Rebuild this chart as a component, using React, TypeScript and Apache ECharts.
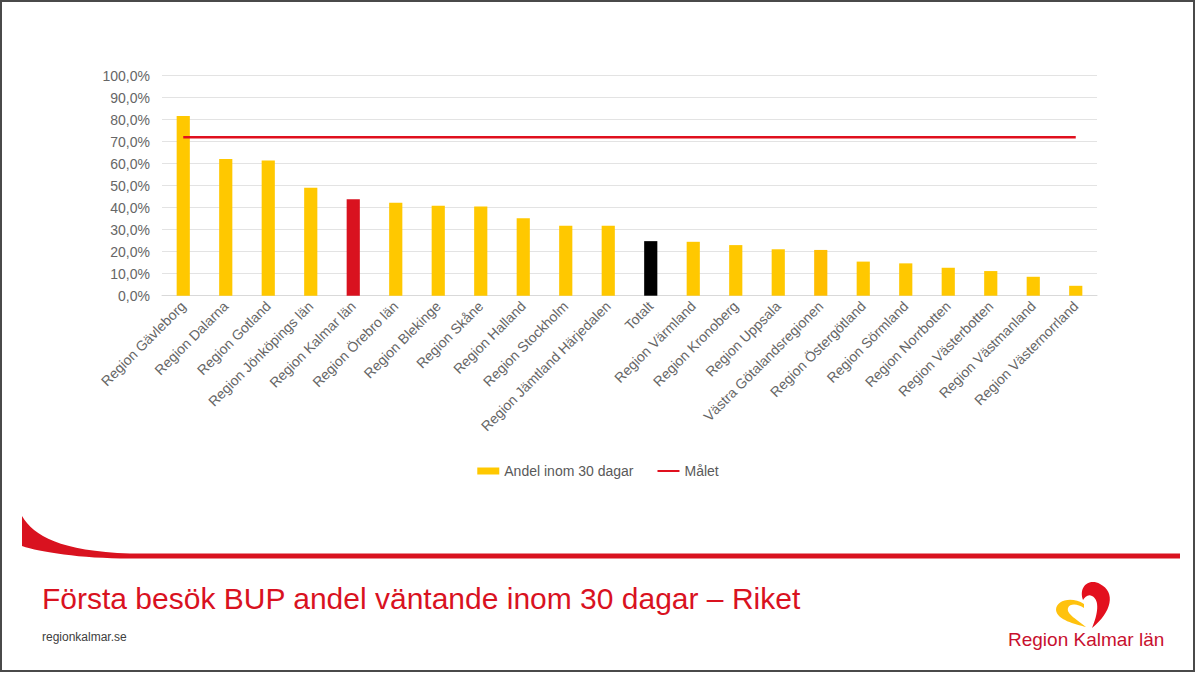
import React, { useEffect, useRef } from "react";
import * as echarts from "echarts";

const categories = [
  "Region Gävleborg", "Region Dalarna", "Region Gotland", "Region Jönköpings län",
  "Region Kalmar län", "Region Örebro län", "Region Blekinge", "Region Skåne",
  "Region Halland", "Region Stockholm", "Region Jämtland Härjedalen", "Totalt",
  "Region Värmland", "Region Kronoberg", "Region Uppsala", "Västra Götalandsregionen",
  "Region Östergötland", "Region Sörmland", "Region Norrbotten", "Region Västerbotten",
  "Region Västmanland", "Region Västernorrland",
];
const andel = [
  81.7, 62.1, 61.4, 49.1, 43.8, 42.3, 40.9, 40.5, 35.2, 31.8, 31.8, 24.8,
  24.5, 23.0, 21.1, 20.8, 15.5, 14.7, 12.7, 11.2, 8.6, 4.5,
];
const malet = categories.map(() => 72);
const yTicks = [0, 10, 20, 30, 40, 50, 60, 70, 80, 90, 100];

const seriesNames = ["Andel inom 30 dagar", "Målet"];
const title = "Första besök BUP andel väntande inom 30 dagar – Riket";

const FONT = "Liberation Sans, Arial, sans-serif";

function barColor(cat: string) {
  if (cat === "Region Kalmar län") return "#D9121F";
  if (cat === "Totalt") return "#000000";
  if (cat === "Västra Götalandsregionen") return "#FFBE00";
  return "#FFC800";
}

echarts.graphic.registerShape(
  "swoosh",
  echarts.graphic.extendPath(
    "M22,516 C34,536 60,551 130,553.5 L1180,553.5 L1180,558.5 L130,558.5 C80,558.5 40,552 22,546 Z",
    {}
  )
);
echarts.graphic.registerShape(
  "heartRed",
  echarts.graphic.extendPath(
    "M1083,600 C1078,586 1090,578 1100,584 C1116,592 1112,612 1092,628 C1098,614 1100,600 1092,596 C1088,594 1085,597 1083,600 Z",
    {}
  )
);
echarts.graphic.registerShape(
  "heartYellow",
  echarts.graphic.extendPath(
    "M1084,604 C1072,596 1056,600 1056,610 C1057,620 1075,624 1086,627 C1078,620 1066,614 1068,608 C1070,603 1078,604 1084,608 Z",
    {}
  )
);

export default function App() {
  const ref = useRef<HTMLDivElement>(null);
  useEffect(() => {
    const chart = echarts.init(ref.current!, undefined, { renderer: "svg" });
    chart.setOption({
      animation: false,
      backgroundColor: "#ffffff",
      textStyle: { fontFamily: FONT },
      grid: { left: 162, right: 99, top: 75.7, bottom: 377.3, containLabel: false },
      legend: {
        data: [
          { name: seriesNames[0], icon: "rect", itemStyle: { color: "#FFC800" } },
          {
            name: seriesNames[1],
            icon: "path://M0,0L0,0M0,2.5L22,2.5L22,4.5L0,4.5ZM22,7L22,7",
            itemStyle: { color: "#E0101E" },
          },
        ],
        top: 459,
        left: "center",
        itemWidth: 22,
        itemHeight: 7,
        itemGap: 24,
        textStyle: { fontSize: 14, color: "#595959", fontFamily: FONT },
      },
      xAxis: {
        type: "category",
        data: categories,
        axisLine: { show: true, lineStyle: { color: "#d9d9d9" } },
        axisTick: { show: false },
        axisLabel: {
          rotate: 45,
          interval: 0,
          fontSize: 14,
          color: "#666666",
          fontFamily: FONT,
          margin: 8,
        },
      },
      yAxis: {
        type: "value",
        min: 0,
        max: 100,
        interval: 10,
        axisLine: { show: false },
        axisTick: { show: false },
        splitLine: { lineStyle: { color: "#e3e3e3", width: 1 } },
        axisLabel: {
          fontSize: 14,
          color: "#666666",
          fontFamily: FONT,
          margin: 12,
          formatter: (v: number) =>
            yTicks.includes(v) ? `${v.toFixed(1).replace(".", ",")}%` : "",
        },
      },
      series: [
        {
          name: seriesNames[0],
          type: "bar",
          barWidth: "31%",
          data: andel.map((v, i) => ({
            value: v,
            itemStyle: { color: barColor(categories[i]) },
          })),
          itemStyle: { color: "#FFC800" },
        },
        {
          name: seriesNames[1],
          type: "line",
          data: malet,
          showSymbol: false,
          symbol: "none",
          lineStyle: { color: "#E0101E", width: 2.5 },
          itemStyle: { color: "#E0101E" },
        },
      ],
      graphic: [
        {
          type: "rect",
          shape: { x: 1, y: 1, width: 1193, height: 670 },
          style: { fill: "none", stroke: "#4a4a4a", lineWidth: 2 },
          silent: true,
        },
        { type: "swoosh", style: { fill: "#D9121F" }, silent: true },
        { type: "heartRed", style: { fill: "#E3101E" }, silent: true },
        { type: "heartYellow", style: { fill: "#FFC20E" }, silent: true },
        {
          type: "text",
          left: 42,
          top: 583,
          style: {
            text: title,
            fontSize: 30,
            fill: "#D9121F",
            fontFamily: FONT,
          },
        },
        {
          type: "text",
          left: 42,
          top: 631,
          style: {
            text: "regionkalmar.se",
            fontSize: 12,
            fill: "#404040",
            fontFamily: FONT,
          },
        },
        {
          type: "text",
          left: 1008,
          top: 630,
          style: {
            text: "Region Kalmar län",
            fontSize: 19,
            fill: "#C8102E",
            fontFamily: FONT,
          },
        },
      ],
    });
    return () => chart.dispose();
  }, []);
  return (
    <div
      ref={ref}
      style={{ position: "fixed", left: 0, top: 0, width: 1196, height: 673 }}
    />
  );
}
